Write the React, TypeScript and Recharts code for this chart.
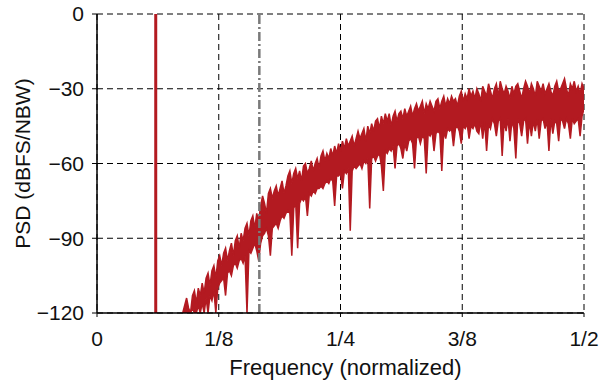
import { ComposedChart, Area, Line, XAxis, YAxis, CartesianGrid, ReferenceLine, Label } from "recharts"

// noise floor of the shaped spectrum (normalized freq, dBFS/NBW)
const freqs = [
  0.088, 0.09, 0.092, 0.094, 0.096, 0.098, 0.1, 0.102, 0.104, 0.106,
  0.108, 0.11, 0.112, 0.114, 0.116, 0.118, 0.12, 0.122, 0.124, 0.126,
  0.128, 0.13, 0.132, 0.134, 0.136, 0.138, 0.14, 0.142, 0.144, 0.146,
  0.148, 0.15, 0.152, 0.154, 0.156, 0.158, 0.16, 0.162, 0.164, 0.166,
  0.168, 0.17, 0.172, 0.174, 0.176, 0.178, 0.18, 0.182, 0.184, 0.186,
  0.188, 0.19, 0.192, 0.194, 0.196, 0.198, 0.2, 0.202, 0.204, 0.206,
  0.208, 0.21, 0.212, 0.214, 0.216, 0.218, 0.22, 0.222, 0.224, 0.226,
  0.228, 0.23, 0.232, 0.234, 0.236, 0.238, 0.24, 0.242, 0.244, 0.246,
  0.248, 0.25, 0.252, 0.254, 0.256, 0.258, 0.26, 0.262, 0.264, 0.266,
  0.268, 0.27, 0.272, 0.274, 0.276, 0.278, 0.28, 0.282, 0.284, 0.286,
  0.288, 0.29, 0.292, 0.294, 0.296, 0.298, 0.3, 0.302, 0.304, 0.306,
  0.308, 0.31, 0.312, 0.314, 0.316, 0.318, 0.32, 0.322, 0.324, 0.326,
  0.328, 0.33, 0.332, 0.334, 0.336, 0.338, 0.34, 0.342, 0.344, 0.346,
  0.348, 0.35, 0.352, 0.354, 0.356, 0.358, 0.36, 0.362, 0.364, 0.366,
  0.368, 0.37, 0.372, 0.374, 0.376, 0.378, 0.38, 0.382, 0.384, 0.386,
  0.388, 0.39, 0.392, 0.394, 0.396, 0.398, 0.4, 0.402, 0.404, 0.406,
  0.408, 0.41, 0.412, 0.414, 0.416, 0.418, 0.42, 0.422, 0.424, 0.426,
  0.428, 0.43, 0.432, 0.434, 0.436, 0.438, 0.44, 0.442, 0.444, 0.446,
  0.448, 0.45, 0.452, 0.454, 0.456, 0.458, 0.46, 0.462, 0.464, 0.466,
  0.468, 0.47, 0.472, 0.474, 0.476, 0.478, 0.48, 0.482, 0.484, 0.486,
  0.488, 0.49, 0.492, 0.494, 0.496, 0.498, 0.5,
]
// upper edge of the noisy trace
const psdHigh = [
  -120, -117, -114, -118, -120, -113, -111, -116, -110, -113,
  -108, -112, -106, -104, -109, -103, -101, -106, -99, -97,
  -101, -96, -94, -99, -95, -92, -97, -91, -89, -94,
  -88, -91, -86, -84, -89, -83, -81, -86, -80, -83,
  -77, -73, -76, -80, -72, -70, -74, -71, -69, -73,
  -70, -67, -72, -69, -65, -63, -68, -64, -62, -66,
  -63, -67, -61, -60, -64, -62, -59, -63, -60, -58,
  -62, -57, -55, -59, -56, -58, -54, -57, -53, -56,
  -52, -55, -51, -54, -50, -53, -51, -49, -53, -50,
  -47, -50, -48, -46, -51, -45, -48, -44, -47, -43,
  -42, -46, -41, -44, -40, -43, -40, -45, -41, -39,
  -43, -40, -39, -42, -38, -41, -39, -37, -41, -38,
  -36, -39, -37, -35, -40, -36, -38, -35, -37, -39,
  -35, -34, -38, -35, -33, -37, -34, -36, -33, -35,
  -34, -37, -33, -31, -35, -32, -34, -30, -33, -31,
  -34, -30, -32, -35, -29, -31, -33, -28, -31, -34,
  -30, -28, -33, -27, -30, -32, -29, -31, -34, -29,
  -32, -29, -28, -31, -34, -30, -27, -29, -32, -28,
  -30, -33, -27, -29, -31, -28, -32, -30, -28, -31,
  -33, -29, -27, -31, -30, -28, -26, -30, -33, -28,
  -30, -27, -31, -29, -32, -28, -30,
]
// lower edge of the trace, with the deep notches
const psdLow = [
  -120, -120, -120, -120, -120, -118, -120, -120, -117, -120,
  -116, -120, -114, -120, -113, -115, -111, -120, -110, -108,
  -107, -106, -113, -104, -103, -105, -101, -100, -102, -99,
  -98, -100, -97, -120, -95, -96, -94, -92, -95, -99,
  -92, -89, -88, -86, -89, -97, -86, -85, -84, -86,
  -83, -81, -82, -80, -79, -80, -97, -78, -76, -94,
  -76, -74, -75, -73, -81, -72, -73, -71, -72, -70,
  -70, -69, -70, -68, -67, -68, -66, -67, -77, -65,
  -65, -64, -70, -63, -64, -62, -87, -63, -61, -62,
  -61, -60, -62, -59, -60, -58, -78, -58, -57, -59,
  -57, -56, -61, -71, -55, -56, -54, -55, -53, -62,
  -53, -52, -54, -58, -52, -55, -51, -50, -52, -62,
  -50, -49, -52, -49, -50, -64, -48, -49, -47, -55,
  -48, -47, -48, -63, -47, -50, -46, -47, -46, -53,
  -46, -45, -47, -52, -45, -46, -44, -50, -45, -46,
  -44, -47, -48, -43, -50, -43, -55, -44, -46, -42,
  -44, -49, -43, -42, -57, -43, -47, -42, -51, -43,
  -46, -58, -42, -44, -49, -43, -42, -52, -43, -49,
  -43, -47, -42, -50, -43, -42, -46, -43, -55, -42,
  -48, -43, -44, -51, -42, -43, -46, -42, -44, -50,
  -42, -44, -43, -42, -49, -41, -38,
]

// the test tone
const toneFreq = 0.0603
const toneLevels = [-120, 0]

// band edge marker
const bandEdge = 1 / 6

const xTicks = [0, 0.125, 0.25, 0.375, 0.5]
const xTickLabels = ["0", "1/8", "1/4", "3/8", "1/2"]
const yTicks = [-120, -90, -60, -30, 0]

const red = "#b31a21"
const font = "'Liberation Sans', Arial, Helvetica, sans-serif"

const noiseData = freqs.map((f, i) => ({ f, band: [psdLow[i], psdHigh[i]] }))
const toneData = toneLevels.map(v => ({ f: toneFreq, v }))

const fmtX = (v: number) => xTickLabels[xTicks.indexOf(v)] ?? ""
const fmtY = (v: number) => String(v).replace("-", "\u2212")

export default function App() {
  return (
    <div style={{ position: "absolute", left: 0, top: 0, background: "#fff" }}>
      <ComposedChart
        width={604}
        height={382}
        data={noiseData}
        margin={{ top: 14, right: 20, bottom: 0, left: 0 }}
        style={{ fontFamily: font }}
      >
        <CartesianGrid stroke="#000" strokeDasharray="6 4" strokeWidth={1} />
        <XAxis
          type="number"
          dataKey="f"
          domain={[0, 0.5]}
          ticks={xTicks}
          tickFormatter={fmtX}
          allowDataOverflow
          height={69}
          tickSize={4}
          tickMargin={14}
          axisLine={{ stroke: "#000", strokeWidth: 1.5 }}
          tickLine={{ stroke: "#000", strokeWidth: 1 }}
          tick={{ fill: "#111", fontSize: 21, fontFamily: font }}
        >
          <Label
            content={(props: any) => {
              const vb = props.viewBox
              return (
                <text x={vb.x + vb.width / 2 + 5} y={vb.y + 62} textAnchor="middle"
                  fill="#111" fontSize={22} fontFamily={font}>
                  Frequency (normalized)
                </text>
              )
            }}
          />
        </XAxis>
        <YAxis
          type="number"
          domain={[-120, 0]}
          ticks={yTicks}
          tickFormatter={fmtY}
          allowDataOverflow
          width={97}
          tickSize={5}
          tickMargin={8}
          axisLine={{ stroke: "#000", strokeWidth: 1.5 }}
          tickLine={{ stroke: "#000", strokeWidth: 1 }}
          tick={{ fill: "#111", fontSize: 21, fontFamily: font }}
        >
          <Label
            content={(props: any) => {
              const vb = props.viewBox
              const cy = vb.y + vb.height / 2
              return (
                <text x={30} y={cy} textAnchor="middle" transform={`rotate(-90, 30, ${cy})`}
                  fill="#111" fontSize={21} fontFamily={font}>
                  PSD (dBFS/NBW)
                </text>
              )
            }}
          />
        </YAxis>
        <ReferenceLine x={bandEdge} stroke="#7a7a7a" strokeWidth={2.5} strokeDasharray="9 3 2 3" />
        <Area type="linear" dataKey="band" stroke={red} strokeWidth={1.5} fill={red} fillOpacity={1}
          dot={false} activeDot={false} isAnimationActive={false} />
        <Line data={toneData} dataKey="v" stroke={red} strokeWidth={3} dot={false} isAnimationActive={false} />
      </ComposedChart>
    </div>
  )
}
